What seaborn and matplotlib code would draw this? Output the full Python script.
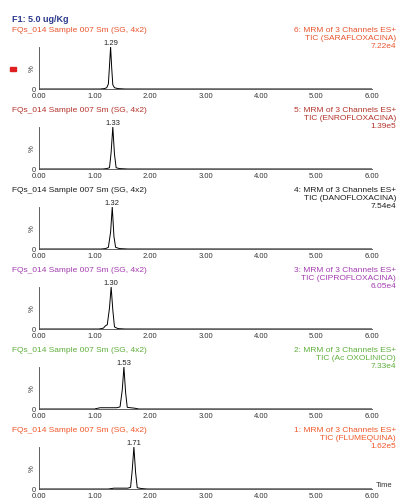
import pandas as pd
import seaborn as sns
import matplotlib.pyplot as plt
from matplotlib.patches import Rectangle
from matplotlib.ticker import MultipleLocator

sns.set_style("white")
plt.rcParams['font.family'] = ['Liberation Sans', 'DejaVu Sans']

# chromatogram data (retention time in min, relative intensity %)
title = 'F1: 5.0 ug/Kg'
sample = 'FQs_014 Sample 007 Sm (SG, 4x2)'
channel_no = [6, 5, 4, 3, 2, 1]
compounds = ['SARAFLOXACINA', 'ENROFLOXACINA', 'DANOFLOXACINA',
             'CIPROFLOXACINA', 'Ac OXOLINICO', 'FLUMEQUINA']
peak_rt = [1.29, 1.33, 1.32, 1.30, 1.53, 1.71]
max_int = ['7.22e4', '1.39e5', '7.54e4', '6.05e4', '7.33e4', '1.62e5']
colors = ['#e8552f', '#b3342c', '#1e1e1e', '#a33db0', '#5fae3c', '#f0582a']

t_sara = [0.00, 1.10, 1.18, 1.22, 1.25, 1.27, 1.29, 1.31, 1.33, 1.36, 1.42, 1.55, 6.00]
i_sara = [0, 0, 1, 3, 12, 55, 100, 50, 10, 3, 1, 0, 0]

t_enro = [0.00, 1.15, 1.22, 1.27, 1.30, 1.33, 1.36, 1.39, 1.45, 1.60, 6.00]
i_enro = [0, 0, 1, 3, 40, 100, 35, 3, 1, 0, 0]

t_dano = [0.00, 1.12, 1.20, 1.25, 1.29, 1.32, 1.35, 1.38, 1.45, 1.60, 6.00]
i_dano = [0, 0, 1, 4, 40, 100, 30, 4, 1, 0, 0]

t_cipro = [0.00, 1.08, 1.16, 1.20, 1.23, 1.27, 1.30, 1.33, 1.36, 1.42, 1.55, 6.00]
i_cipro = [0, 0, 2, 8, 10, 50, 100, 45, 5, 1, 0, 0]

t_oxo = [0.00, 1.00, 1.10, 1.40, 1.46, 1.50, 1.53, 1.56, 1.59, 1.65, 1.72, 1.80, 6.00]
i_oxo = [0, 0, 3, 3, 5, 45, 100, 40, 4, 3, 2, 0, 0]

t_flu = [0.00, 1.25, 1.35, 1.60, 1.65, 1.68, 1.71, 1.74, 1.77, 1.85, 1.95, 6.00]
i_flu = [0, 0, 2, 2, 4, 45, 100, 40, 3, 1, 0, 0]

traces = [(t_sara, i_sara), (t_enro, i_enro), (t_dano, i_dano),
          (t_cipro, i_cipro), (t_oxo, i_oxo), (t_flu, i_flu)]

W, H = 397, 502
fig = plt.figure(figsize=(W / 100, H / 100), dpi=100)

x0, x1 = 39, 372
bottoms = [90, 170, 250, 330, 410, 490]
ax_h = 42

fig.text(12 / W, 1 - 20 / H, title, color='#2b3a8c', fontsize=6.5,
         fontweight='bold', va='center')

for k, (t, y) in enumerate(traces):
    B = bottoms[k]
    ax = fig.add_axes([x0 / W, 1 - B / H, (x1 - x0) / W, ax_h / H])
    df = pd.DataFrame({'time': t, 'pct': y})
    sns.lineplot(data=df, x='time', y='pct', ax=ax, color='black', lw=0.7)
    ax.set_xlim(0, 6)
    ax.set_ylim(0, 100)
    ax.set_facecolor('none')
    for s in ['top', 'right']:
        ax.spines[s].set_visible(False)
    for s in ['left', 'bottom']:
        ax.spines[s].set_linewidth(0.6)
        ax.spines[s].set_color('#444444')
    ax.xaxis.set_major_locator(MultipleLocator(1))
    ax.xaxis.set_minor_locator(MultipleLocator(0.1))
    ax.set_xticklabels([f'{v:.2f}' for v in ax.get_xticks()])
    ax.set_yticks([0, 100])
    ax.set_yticklabels(['0', ''])
    ax.yaxis.set_minor_locator(MultipleLocator(10))
    ax.tick_params(which='major', length=3, width=0.5, pad=1,
                   labelsize=5.5, colors='#333333', direction='inout')
    ax.tick_params(which='minor', length=1.5, width=0.4, direction='inout',
                   colors='#555555')
    ax.set_xlabel('')
    ax.set_ylabel('%', fontsize=5.5, labelpad=-3, color='#333333')

    ax.text(peak_rt[k], 102, f'{peak_rt[k]:.2f}', ha='center', va='bottom',
            fontsize=5.5, color='#222222', clip_on=False)

    hy = B - 59
    fig.text(12 / W, 1 - hy / H, sample, color=colors[k], fontsize=6,
             va='center')
    right_lines = [f'{channel_no[k]}: MRM of 3 Channels ES+',
                   f'TIC ({compounds[k]})', max_int[k]]
    for j, line in enumerate(right_lines):
        fig.text(396 / W, 1 - (hy + 8 * j) / H, line, color=colors[k],
                 fontsize=6, va='center', ha='right')

    if k == len(traces) - 1:
        ax.text(1.01, 0.02, 'Time', transform=ax.transAxes, fontsize=5.5,
                va='bottom', ha='left', color='#333333')

# red marker on the first trace
fig.patches.append(Rectangle((10 / W, 1 - 72 / H), 6 / W, 4 / H,
                             transform=fig.transFigure, color='#e02020'))

fig.savefig('out.png', dpi=100)
